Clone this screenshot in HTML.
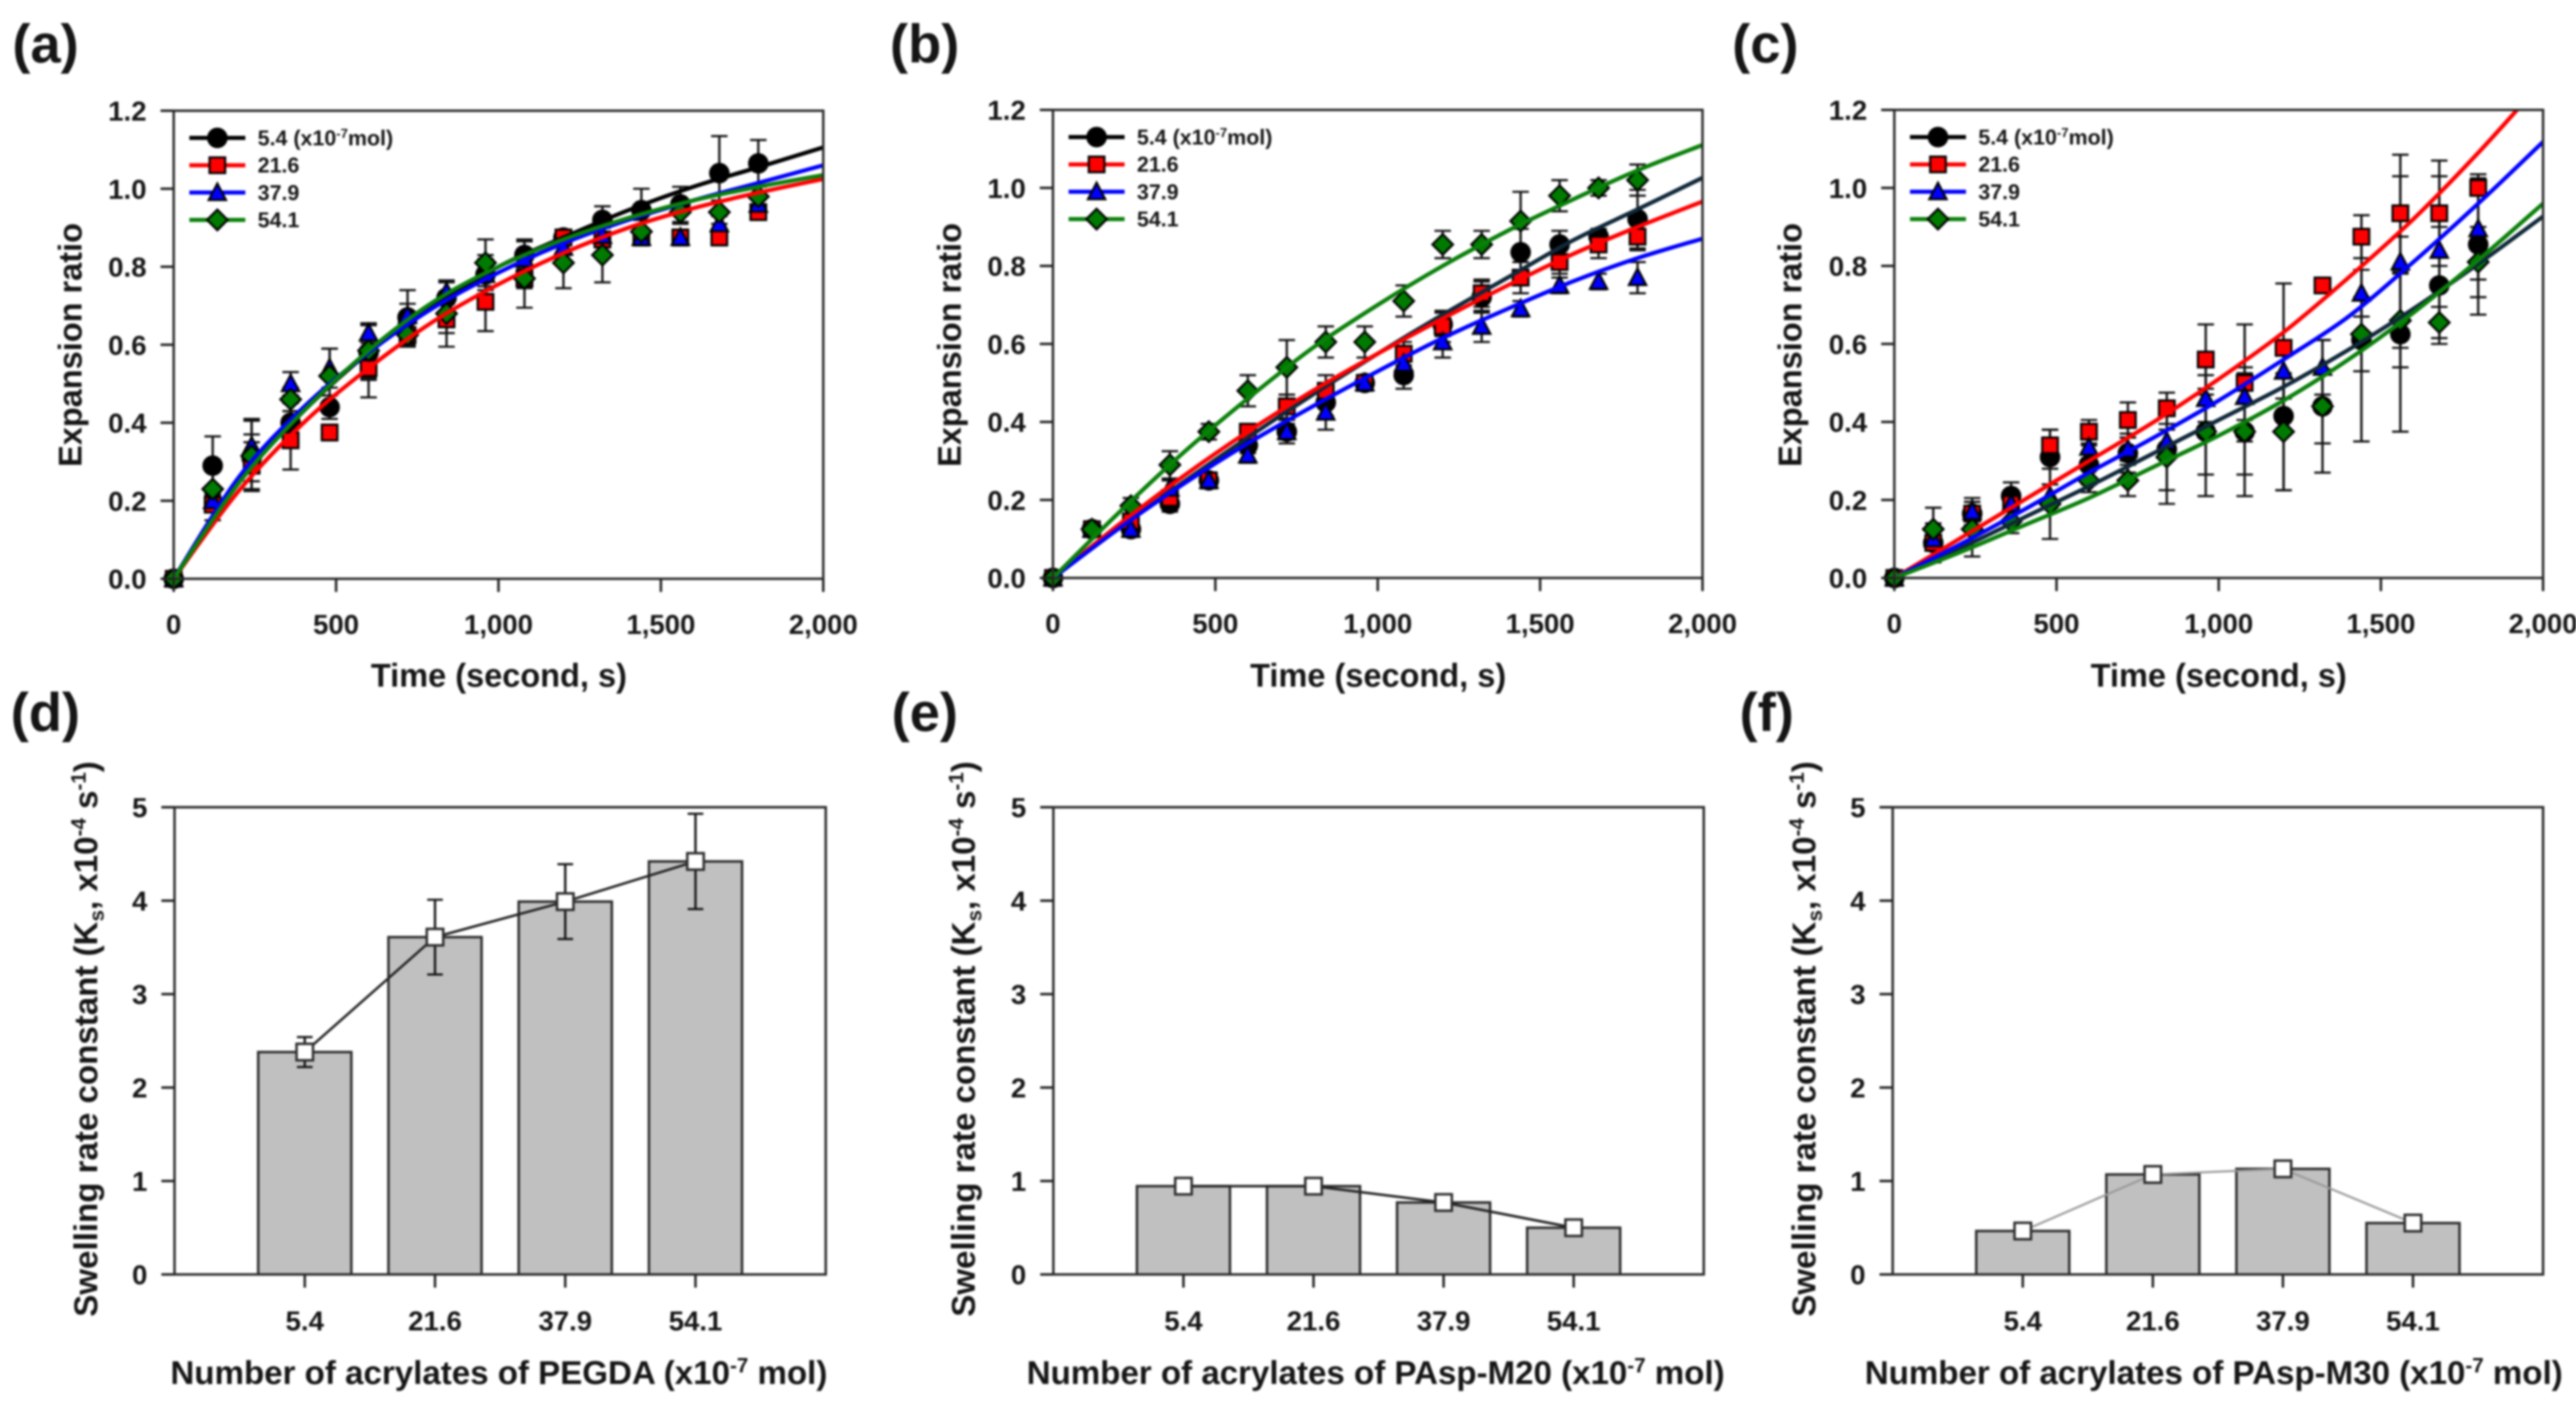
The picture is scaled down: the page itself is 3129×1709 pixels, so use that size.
<!DOCTYPE html>
<html lang="en">
<head>
<meta charset="utf-8">
<title>Expansion ratio and swelling rate constant charts</title>
<style>
html,body{margin:0;padding:0;background:#fff;width:3129px;height:1709px;overflow:hidden}
svg{display:block;filter:blur(1.3px)}
text{font-family:"Liberation Sans",Arial,sans-serif;font-weight:bold;fill:#151515}
.letter{font-size:66px}
.title{font-size:39.5px}
.bt{font-size:40.2px}
.tick{font-size:33.5px}
.leg{font-size:26px}
</style>
</head>
<body>
<svg id="fig" xmlns="http://www.w3.org/2000/svg" width="3129" height="1709" viewBox="0 0 3129 1709">
<rect x="0" y="0" width="3129" height="1709" fill="#fff"/>
<text class="letter" x="15" y="76">(a)</text>
<text class="letter" x="1081" y="76">(b)</text>
<text class="letter" x="2104" y="76">(c)</text>
<text class="letter" x="13" y="888">(d)</text>
<text class="letter" x="1083" y="888">(e)</text>
<text class="letter" x="2113" y="888">(f)</text>

<text class="title" text-anchor="middle" x="606" y="834">Time (second, s)</text>
<text class="title" text-anchor="middle" x="1674" y="834">Time (second, s)</text>
<text class="title" text-anchor="middle" x="2695" y="834">Time (second, s)</text>
<text class="title" text-anchor="middle" transform="translate(99 419) rotate(-90)">Expansion ratio</text>
<text class="title" text-anchor="middle" transform="translate(1167 419) rotate(-90)">Expansion ratio</text>
<text class="title" text-anchor="middle" transform="translate(2188 419) rotate(-90)">Expansion ratio</text>

<text class="bt" text-anchor="middle" x="606" y="1681">Number of acrylates of PEGDA (x10<tspan font-size="25" dy="-14">-7</tspan><tspan dy="14"> mol)</tspan></text>
<text class="bt" text-anchor="middle" x="1671" y="1681">Number of acrylates of PAsp-M20 (x10<tspan font-size="25" dy="-14">-7</tspan><tspan dy="14"> mol)</tspan></text>
<text class="bt" text-anchor="middle" x="2689" y="1681">Number of acrylates of PAsp-M30 (x10<tspan font-size="25" dy="-14">-7</tspan><tspan dy="14"> mol)</tspan></text>
<text class="bt" text-anchor="middle" transform="translate(118 1262) rotate(-90)">Swelling rate constant (K<tspan font-size="25" dy="8">s</tspan><tspan dy="-8">, x10</tspan><tspan font-size="25" dy="-14">-4</tspan><tspan dy="14"> s</tspan><tspan font-size="25" dy="-14">-1</tspan><tspan dy="14">)</tspan></text>
<text class="bt" text-anchor="middle" transform="translate(1184 1262) rotate(-90)">Swelling rate constant (K<tspan font-size="25" dy="8">s</tspan><tspan dy="-8">, x10</tspan><tspan font-size="25" dy="-14">-4</tspan><tspan dy="14"> s</tspan><tspan font-size="25" dy="-14">-1</tspan><tspan dy="14">)</tspan></text>
<text class="bt" text-anchor="middle" transform="translate(2205 1262) rotate(-90)">Swelling rate constant (K<tspan font-size="25" dy="8">s</tspan><tspan dy="-8">, x10</tspan><tspan font-size="25" dy="-14">-4</tspan><tspan dy="14"> s</tspan><tspan font-size="25" dy="-14">-1</tspan><tspan dy="14">)</tspan></text>
</svg>
<script>
// ---- shared axis data ----
const timePoints = [0,120,240,360,480,600,720,840,960,1080,1200,1320,1440,1560,1680,1800];
const fitTimes = [0,200,400,600,800,1000,1200,1400,1600,1800,2000];
const xTickValues = [0,500,1000,1500,2000];
const xTickLabels = ['0','500','1,000','1,500','2,000'];
const yTickValues = [0,0.2,0.4,0.6,0.8,1.0,1.2];
const yTickLabels = ['0.0','0.2','0.4','0.6','0.8','1.0','1.2'];
const legendLabels = ['5.4','21.6','37.9','54.1'];
const categories = ['5.4','21.6','37.9','54.1'];
const barTickValues = [0,1,2,3,4,5];
const barTickLabels = ['0','1','2','3','4','5'];

// ---- panel (a) ----
const aPoints54 = [0,.29,.31,.40,.44,.58,.67,.72,.78,.83,.875,.92,.945,.96,1.04,1.065];
const aPoints216 = [0,.19,.29,.355,.375,.54,.625,.665,.71,.77,.875,.87,.875,.875,.875,.94];
const aPoints379 = [0,.20,.34,.50,.54,.63,.675,.735,.78,.82,.85,.88,.875,.875,.91,.96];
const aPoints541 = [0,.23,.315,.46,.52,.585,.625,.68,.81,.77,.81,.83,.89,.94,.94,.98];
const aErrors54 = [0,.075,.06,.05,.03,.07,.07,.04,.04,.035,.02,.035,.055,.045,.095,.06];
const aErrors216 = [0,.04,.06,.075,.02,.075,.03,.07,.075,.025,.02,.02,.02,.02,.02,.02];
const aErrors379 = [0,.02,.07,.03,.05,.025,.03,.03,.05,.05,.02,.02,.02,.02,.02,.02];
const aErrors541 = [0,.05,.09,.03,.07,.07,.03,.05,.06,.075,.065,.07,.03,.03,.03,.03];
const aFit54 = [0,.25,.43,.58,.70,.80,.875,.945,1.005,1.055,1.106];
const aFit216 = [0,.225,.40,.54,.66,.755,.835,.90,.95,.99,1.025];
const aFit379 = [0,.26,.44,.58,.695,.785,.86,.92,.97,1.015,1.06];
const aFit541 = [0,.245,.43,.585,.71,.80,.87,.925,.97,1.005,1.035];

// ---- panel (b) ----
const bPoints54 = [0,.125,.125,.19,.25,.34,.375,.45,.50,.52,.65,.72,.835,.855,.875,.92];
const bPoints216 = [0,.125,.145,.205,.25,.375,.44,.48,.50,.575,.645,.73,.77,.81,.855,.875];
const bPoints379 = [0,.125,.125,.23,.25,.315,.375,.425,.50,.55,.605,.645,.69,.75,.76,.77];
const bPoints541 = [0,.125,.185,.29,.375,.48,.54,.605,.605,.71,.855,.855,.915,.98,1.0,1.02];
const bErrors54 = [0,.01,.01,.02,.02,.02,.03,.035,.02,.035,.03,.04,.06,.035,.02,.075];
const bErrors216 = [0,.01,.02,.02,.02,.02,.03,.04,.02,.03,.04,.035,.04,.03,.035,.035];
const bErrors379 = [0,.01,.02,.02,.02,.02,.02,.045,.02,.04,.04,.04,.02,.02,.02,.04];
const bErrors541 = [0,.02,.02,.035,.02,.04,.07,.04,.04,.04,.035,.035,.075,.04,.02,.04];
const bFit54 = [0,.125,.245,.36,.47,.575,.675,.77,.865,.945,1.026];
const bFit216 = [0,.135,.26,.375,.48,.575,.665,.75,.83,.90,.965];
const bFit379 = [0,.125,.24,.345,.44,.53,.615,.69,.76,.82,.87];
const bFit541 = [0,.165,.32,.46,.59,.70,.80,.89,.97,1.045,1.11];

// ---- panel (c) ----
const cPoints54 = [0,.09,.165,.21,.31,.29,.32,.33,.375,.375,.415,.44,.61,.625,.75,.855];
const cPoints216 = [0,.09,.165,.19,.34,.375,.405,.435,.56,.50,.59,.75,.875,.935,.935,1.0];
const cPoints379 = [0,.10,.17,.19,.21,.335,.33,.35,.46,.465,.53,.54,.73,.81,.84,.895];
const cPoints541 = [0,.125,.125,.145,.19,.25,.25,.31,.375,.375,.375,.44,.625,.66,.655,.81];
const cErrors54 = [0,.05,.03,.035,.07,.05,.05,.105,.11,.11,.19,.095,.26,.25,.15,.18];
const cErrors216 = [0,.02,.03,.02,.04,.03,.045,.04,.09,.15,.165,.01,.055,.15,.135,.02];
const cErrors379 = [0,.02,.035,.02,.03,.03,.03,.03,.06,.06,.07,.07,.06,.22,.19,.13];
const cErrors541 = [0,.055,.07,.03,.09,.03,.04,.12,.165,.165,.15,.17,.095,.12,.04,.09];
const cFit54 = [0,.075,.155,.235,.32,.405,.49,.585,.69,.805,.927];
const cFit216 = [0,.10,.20,.30,.40,.51,.63,.77,.92,1.09,1.275];
const cFit379 = [0,.085,.175,.27,.36,.455,.56,.67,.81,.96,1.118];
const cFit541 = [0,.065,.135,.205,.285,.365,.455,.56,.68,.815,.96];

// ---- bar panels ----
const dValues = [2.38,3.61,3.99,4.42];
const dErrors = [.16,.40,.40,.51];
const eValues = [.945,.945,.77,.50];
const eErrors = [0,0,0,0];
const fValues = [.465,1.07,1.13,.55];
const fErrors = [0,0,0,0];

const NS = 'http://www.w3.org/2000/svg';
const fig = document.getElementById('fig');
const seriesStyle = [
  {fill:'#000000', line:'#000000', shape:'circle'},
  {fill:'#ff0000', line:'#ff0000', shape:'square'},
  {fill:'#0000ff', line:'#0000ff', shape:'triangle'},
  {fill:'#007a00', line:'#0a800a', shape:'diamond'}
];

function make(parent, tag) {
  const el = document.createElementNS(NS, tag);
  parent.appendChild(el);
  return el;
}
function setAll(el, props) {
  for (const k in props) el.setAttribute(k, props[k]);
}
function scaleLinear(d0, d1, r0, r1) {
  return v => r0 + (v - d0) / (d1 - d0) * (r1 - r0);
}

function drawTickX(g, px, y0) {
  const el = make(g, 'line');
  
  
  setAll(el, {x1:px, x2:px, y1:y0, y2:y0+16, stroke:'#222', 'stroke-width':3});
}
function drawTickY(g, py, x0) {
  const el = make(g, 'line');
  
  
  setAll(el, {x1:x0-16, x2:x0, y1:py, y2:py, stroke:'#222', 'stroke-width':3});
}
function drawLabelX(g, px, py, label) {
  const el = make(g, 'text');
  
  
  setAll(el, {x:px, y:py, 'text-anchor':'middle', class:'tick'});
  el.textContent = label;
}
function drawLabelY(g, px, py, label) {
  const el = make(g, 'text');
  
  
  setAll(el, {x:px, y:py, 'text-anchor':'end', class:'tick'});
  el.textContent = label;
}
function drawFrame(g, box) {
  const el = make(g, 'rect');
  
  
  setAll(el, {x:box.x0, y:box.y1, width:box.x1-box.x0, height:box.y0-box.y1, fill:'none', stroke:'#2b2b2b', 'stroke-width':3});
}
function drawMarker(g, cx, cy, st) {
  const sw = 2.6;
  let el;
  if (st.shape === 'circle') {
    el = make(g, 'circle');
    setAll(el, {cx:cx, cy:cy, r:11.2});
  } else if (st.shape === 'square') {
    el = make(g, 'rect');
    setAll(el, {x:cx-9.5, y:cy-9.5, width:19, height:19});
  } else if (st.shape === 'triangle') {
    el = make(g, 'polygon');
    setAll(el, {points:(cx-10.5)+','+(cy+9)+' '+(cx+10.5)+','+(cy+9)+' '+cx+','+(cy-11)});
  } else {
    el = make(g, 'polygon');
    setAll(el, {points:(cx-12.5)+','+cy+' '+cx+','+(cy-12.5)+' '+(cx+12.5)+','+cy+' '+cx+','+(cy+12.5)});
  }
  
  
  setAll(el, {fill:st.fill, stroke:'#000', 'stroke-width':sw, 'stroke-linejoin':'miter'});
}
function drawErrorBar(g, cx, yLow, yHigh, capHalf) {
  const stem = make(g, 'line');
  
  
  setAll(stem, {x1:cx, x2:cx, y1:yLow, y2:yHigh, stroke:'#111', 'stroke-width':2.8});
  const top = make(g, 'line');
  
  
  setAll(top, {x1:cx-capHalf, x2:cx+capHalf, y1:yHigh, y2:yHigh, stroke:'#111', 'stroke-width':2.6});
  const bot = make(g, 'line');
  
  
  setAll(bot, {x1:cx-capHalf, x2:cx+capHalf, y1:yLow, y2:yLow, stroke:'#111', 'stroke-width':2.6});
}
function smoothPath(pts) {
  let d = 'M' + pts[0][0] + ' ' + pts[0][1];
  for (let i = 0; i < pts.length - 1; i++) {
    const p0 = pts[Math.max(i-1,0)], p1 = pts[i], p2 = pts[i+1], p3 = pts[Math.min(i+2,pts.length-1)];
    d += ' C' + (p1[0]+(p2[0]-p0[0])/6) + ' ' + (p1[1]+(p2[1]-p0[1])/6) + ' ' +
         (p2[0]-(p3[0]-p1[0])/6) + ' ' + (p2[1]-(p3[1]-p1[1])/6) + ' ' + p2[0] + ' ' + p2[1];
  }
  return d;
}

function drawLinePanel(cfg) {
  const box = cfg.box;
  const x = scaleLinear(0, 2000, box.x0, box.x1);
  const y = scaleLinear(0, 1.2, box.y0, box.y1);
  const g = make(fig, 'g');
  
  

  const clip = make(g, 'clipPath');
  clip.setAttribute('id', cfg.id + '-clip');
  setAll(make(clip, 'rect'), {x:box.x0-14, y:box.y1, width:box.x1-box.x0+14, height:box.y0-box.y1+14});

  // error bars and markers
  cfg.points.forEach((vals, s) => {
    vals.forEach((v, i) => {
      const e = cfg.errors[s][i];
      if (e > 0) drawErrorBar(g, x(timePoints[i]), y(v-e), y(v+e), 10);
    });
  });
  cfg.points.forEach((vals, s) => {
    vals.forEach((v, i) => drawMarker(g, x(timePoints[i]), y(v), seriesStyle[s]));
  });

  // fitted curves
  cfg.fits.forEach((vals, s) => {
    const el = make(g, 'path');
    
    
    const color = (s === 0) ? cfg.blackCurve : seriesStyle[s].line;
    setAll(el, {d:smoothPath(vals.map((v, i) => [x(fitTimes[i]), y(v)])), fill:'none', stroke:color,
      'stroke-width':5, 'clip-path':'url(#' + cfg.id + '-clip)'});
  });

  drawFrame(g, box);
  yTickValues.forEach((v, i) => {
    drawTickY(g, y(v), box.x0);
    drawLabelY(g, box.x0-33, y(v)+12, yTickLabels[i]);
  });
  xTickValues.forEach((v, i) => {
    drawTickX(g, x(v), box.y0);
    drawLabelX(g, x(v), box.y0+67, xTickLabels[i]);
  });

  // legend
  legendLabels.forEach((label, s) => {
    const ly = box.y1 + 33 + s * 33.2;
    const ln = make(g, 'line');
    
    
    setAll(ln, {x1:box.x0+19, x2:box.x0+87, y1:ly, y2:ly, stroke:seriesStyle[s].line, 'stroke-width':5});
    drawMarker(g, box.x0+53, ly, seriesStyle[s]);
    const t = make(g, 'text');
    
    
    setAll(t, {x:box.x0+102, y:ly+9, class:'leg'});
    t.textContent = label;
    if (s === 0) {
      const a = make(t, 'tspan');
      a.textContent = ' (x10';
      const b = make(t, 'tspan');
      setAll(b, {'font-size':16, dy:-9});
      b.textContent = '-7';
      const c = make(t, 'tspan');
      setAll(c, {dy:9});
      c.textContent = 'mol)';
    }
  });
}

function drawBarPanel(cfg) {
  const box = cfg.box;
  const x = scaleLinear(0, 5, box.x0, box.x1);
  const y = scaleLinear(0, 5, box.y0, box.y1);
  const g = make(fig, 'g');
  
  

  cfg.values.forEach((v, i) => {
    const cx = x(i+1);
    const halfW = x(0.3575) - x(0);
    const el = make(g, 'rect');
    
    
    setAll(el, {x:cx-halfW, y:y(v), width:halfW*2, height:y(0)-y(v), fill:'#c0c0c0', stroke:'#2b2b2b', 'stroke-width':3});
  });
  drawFrame(g, box);

  const conn = make(g, 'polyline');
  
  
  setAll(conn, {points:cfg.values.map((v, i) => x(i+1)+','+y(v)).join(' '), fill:'none', stroke:cfg.lineColor, 'stroke-width':cfg.lineWidth});

  cfg.values.forEach((v, i) => {
    const e = cfg.errors[i];
    if (e > 0) drawErrorBar(g, x(i+1), y(v-e), y(v+e), 9.5);
  });
  cfg.values.forEach((v, i) => {
    const el = make(g, 'rect');
    
    
    setAll(el, {x:x(i+1)-10, y:y(v)-10, width:20, height:20, fill:'#fff', stroke:'#2b2b2b', 'stroke-width':3});
  });

  barTickValues.forEach((v, i) => {
    drawTickY(g, y(v), box.x0);
    drawLabelY(g, box.x0-33, y(v)+12, barTickLabels[i]);
  });
  categories.forEach((c, i) => {
    drawTickX(g, x(i+1), box.y0);
    drawLabelX(g, x(i+1), box.y0+68, c);
  });
}

drawLinePanel({id:'a', box:{x0:211, x1:1000, y0:703, y1:134.5}, blackCurve:'#000000',
  points:[aPoints54,aPoints216,aPoints379,aPoints541], errors:[aErrors54,aErrors216,aErrors379,aErrors541], fits:[aFit54,aFit216,aFit379,aFit541]});
drawLinePanel({id:'b', box:{x0:1279, x1:2068, y0:702, y1:133.5}, blackCurve:'#10283a',
  points:[bPoints54,bPoints216,bPoints379,bPoints541], errors:[bErrors54,bErrors216,bErrors379,bErrors541], fits:[bFit54,bFit216,bFit379,bFit541]});
drawLinePanel({id:'c', box:{x0:2301, x1:3089, y0:702, y1:133.5}, blackCurve:'#10283a',
  points:[cPoints54,cPoints216,cPoints379,cPoints541], errors:[cErrors54,cErrors216,cErrors379,cErrors541], fits:[cFit54,cFit216,cFit379,cFit541]});

drawBarPanel({box:{x0:212, x1:1003, y0:1548, y1:980.5}, values:dValues, errors:dErrors, lineColor:'#222', lineWidth:3});
drawBarPanel({box:{x0:1279.5, x1:2069.5, y0:1548, y1:980.5}, values:eValues, errors:eErrors, lineColor:'#222', lineWidth:3});
drawBarPanel({box:{x0:2299, x1:3089, y0:1548, y1:980.5}, values:fValues, errors:fErrors, lineColor:'#999', lineWidth:2.5});
</script>
</body>
</html>
